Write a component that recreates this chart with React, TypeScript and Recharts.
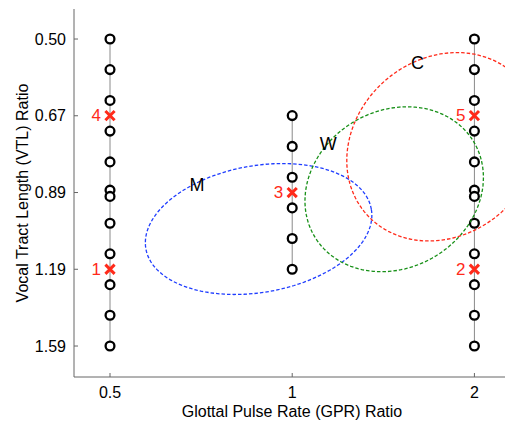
import React from "react";
import { ComposedChart, XAxis, YAxis, Scatter } from "recharts";

const FONT = "'Liberation Sans', Arial, Helvetica, sans-serif";
const AXIS = "#666666";
const RED = "#ff2a1a";

// axes
const GPR_DOMAIN = [0.436, 2.29];
const VTL_DOMAIN = [0.4466, 1.7836];
const GPR_TICKS = [0.5, 1, 2];
const VTL_TICKS = [0.5, 0.6674, 0.8909, 1.1892, 1.5874];

// stimulus columns (GPR ratio, VTL ratios)
const COL_GPR = [0.5, 1, 2];
const COL_LOW_VTL = [0.5, 0.561, 0.63, 0.707, 0.794, 0.883, 0.904, 1.0, 1.122, 1.26, 1.414, 1.587];
const COL_MID_VTL = [0.667, 0.749, 0.841, 0.944, 1.059, 1.189];
const COL_HIGH_VTL = [0.5, 0.561, 0.63, 0.707, 0.794, 0.883, 0.904, 1.0, 1.122, 1.26, 1.414, 1.587];

// reference speakers
const CROSS_LABELS = ["1", "2", "3", "4", "5"];
const CROSS_GPR = [0.5, 2, 1, 0.5, 2];
const CROSS_VTL = [1.189, 1.189, 0.891, 0.667, 0.667];

// speaker groups (ellipse centre, semi-axes in octaves, tilt in degrees)
const GROUP_NAMES = ["M", "W", "C"];
const GROUP_COLORS = ["#1f3dff", "#179017", "#ff2a1a"];
const GROUP_GPR = [0.88, 1.474, 1.774];
const GROUP_VTL = [1.022, 0.88, 0.75];
const GROUP_MAJOR = [0.628, 0.507, 0.557];
const GROUP_MINOR = [0.344, 0.428, 0.479];
const GROUP_TILT = [9.8, 28.9, 39.0];
const LABEL_GPR = [0.696, 1.147, 1.61];
const LABEL_VTL = [0.867, 0.743, 0.547];

const columns = [COL_LOW_VTL, COL_MID_VTL, COL_HIGH_VTL].map((vals, i) =>
  vals.map((v) => ({ x: COL_GPR[i], y: v }))
);

const crosses = CROSS_LABELS.map((label, i) => ({ x: CROSS_GPR[i], y: CROSS_VTL[i], label }));

const groupLabels = GROUP_NAMES.map((name, i) => ({ x: LABEL_GPR[i], y: LABEL_VTL[i], name }));

function ellipse(i: number) {
  const th = (GROUP_TILT[i] * Math.PI) / 180;
  const lx0 = Math.log2(GROUP_GPR[i]);
  const ly0 = Math.log2(GROUP_VTL[i]);
  const a = GROUP_MAJOR[i];
  const b = GROUP_MINOR[i];
  const pts: { x: number; y: number }[] = [];
  const n = 140;
  for (let k = 0; k <= n; k++) {
    const t = (k / n) * 2 * Math.PI;
    const lx = lx0 + a * Math.cos(t) * Math.cos(th) - b * Math.sin(t) * Math.sin(th);
    const ly = ly0 - (a * Math.cos(t) * Math.sin(th) + b * Math.sin(t) * Math.cos(th));
    pts.push({ x: Math.pow(2, lx), y: Math.pow(2, ly) });
  }
  return pts;
}

const Circle = (p: any) => (
  <circle cx={p.cx} cy={p.cy} r={4.4} fill="#fff" stroke="#000" strokeWidth={2.3} />
);

const Cross = (p: any) => {
  const s = 4.6;
  const { cx, cy } = p;
  return (
    <g>
      <path
        d={`M${cx - s},${cy - s}L${cx + s},${cy + s}M${cx - s},${cy + s}L${cx + s},${cy - s}`}
        stroke={RED}
        strokeWidth={3}
        fill="none"
      />
      <text x={cx - 9} y={cy} textAnchor="end" dominantBaseline="central" fontSize={17} fill={RED} fontFamily={FONT}>
        {p.payload.label}
      </text>
    </g>
  );
};

const GroupLabel = (p: any) => (
  <text x={p.cx} y={p.cy} textAnchor="middle" dominantBaseline="central" fontSize={18} fill="#000" fontFamily={FONT}>
    {p.payload.name}
  </text>
);

const Nothing = () => <g />;

const fmtVtl = (v: number) => v.toFixed(2);
const fmtGpr = (v: number) => String(v);

export default function App() {
  return (
    <div style={{ position: "absolute", left: 0, top: 0, width: 505, height: 426, overflow: "hidden", background: "#fff" }}>
      <ComposedChart width={510} height={426} margin={{ top: 9, right: 0, bottom: 0, left: 0 }} style={{ fontFamily: FONT }}>
        <XAxis
          xAxisId="b"
          type="number"
          dataKey="x"
          scale="log"
          domain={GPR_DOMAIN}
          allowDataOverflow
          ticks={GPR_TICKS}
          tickFormatter={fmtGpr}
          height={49}
          tickSize={-4}
          tickMargin={14}
          stroke={AXIS}
          tick={{ fontSize: 16, fill: "#000" }}
          label={{ value: "Glottal Pulse Rate (GPR) Ratio", position: "insideBottom", offset: 9, fontSize: 16, fill: "#000" }}
        />
        <XAxis
          xAxisId="t"
          orientation="top"
          type="number"
          dataKey="x"
          scale="log"
          domain={GPR_DOMAIN}
          allowDataOverflow
          ticks={GPR_TICKS}
          tickFormatter={() => ""}
          height={0}
          tickSize={-4}
          stroke={AXIS}
        />
        <YAxis
          type="number"
          dataKey="y"
          scale="log"
          reversed
          domain={VTL_DOMAIN}
          allowDataOverflow
          ticks={VTL_TICKS}
          tickFormatter={fmtVtl}
          width={74}
          tickSize={-4}
          tickMargin={12}
          stroke={AXIS}
          tick={{ fontSize: 16, fill: "#000" }}
          label={{
            content: (lp: any) => {
              const vb = lp.viewBox || { x: 0, y: 9, width: 74, height: 368 };
              const x = vb.x + 28;
              const y = vb.y + vb.height / 2;
              return (
                <text x={x} y={y} transform={`rotate(-90 ${x} ${y})`} textAnchor="middle" fontSize={16} fill="#000" fontFamily={FONT}>
                  Vocal Tract Length (VTL) Ratio
                </text>
              );
            },
          }}
        />
        {columns.map((d, i) => (
          <Scatter
            key={"col" + i}
            xAxisId="b"
            data={d}
            line={{ stroke: "#8a8a8a", strokeWidth: 1 }}
            lineType="joint"
            shape={Circle}
            isAnimationActive={false}
          />
        ))}
        <Scatter xAxisId="b" data={crosses} shape={Cross} isAnimationActive={false} />
        {GROUP_NAMES.map((g, i) => (
          <Scatter
            key={"ell" + g}
            xAxisId="b"
            data={ellipse(i)}
            line={{ stroke: GROUP_COLORS[i], strokeWidth: 1.3, strokeDasharray: "3.5 2" }}
            lineType="joint"
            shape={Nothing}
            isAnimationActive={false}
          />
        ))}
        <Scatter xAxisId="b" data={groupLabels} shape={GroupLabel} isAnimationActive={false} />
      </ComposedChart>
    </div>
  );
}
